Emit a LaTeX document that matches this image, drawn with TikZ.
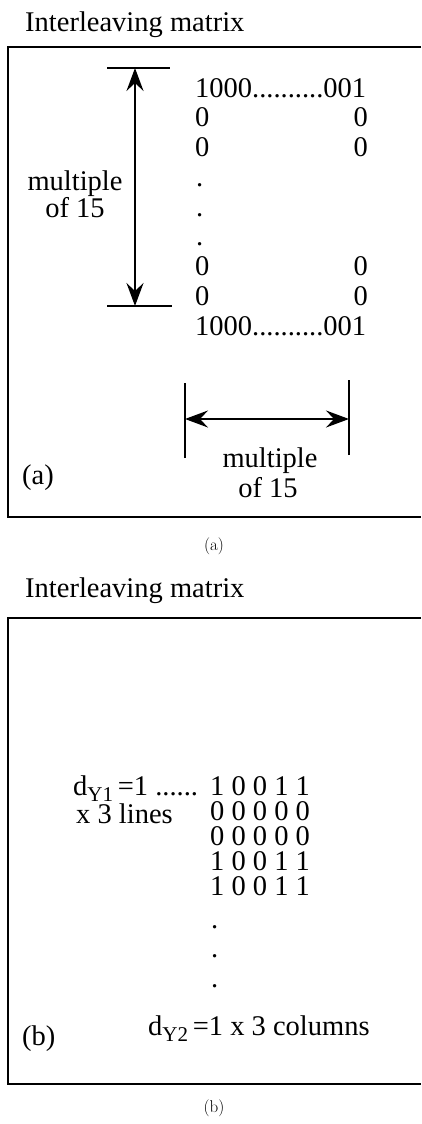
\documentclass[tikz,border=0pt]{standalone}
\usepackage{fontspec}
\newfontfamily\timesfont{Liberation Serif}
\usepackage{tikz}
\usetikzlibrary{arrows.meta}
\newcommand{\bigtxt}{\timesfont\fontsize{28.5}{30}\selectfont}
\newcommand{\subtxt}[1]{\raisebox{-6pt}{\fontsize{21}{21}\selectfont #1}}

\begin{document}
\begin{tikzpicture}[x=1pt, y=-1pt,
    txt/.style={inner sep=0pt, font=\bigtxt, anchor=base west},
    rowtxt/.style={txt, text height=20pt, text depth=1pt},
    capt/.style={inner sep=0pt, font=\fontsize{17}{18}\selectfont},
    dimarrow/.style={line width=1.8pt, {Stealth[length=23pt, width=17pt, inset=8pt]}-{Stealth[length=23pt, width=17pt, inset=8pt]}},
    tickbar/.style={line width=2pt},
    frame/.style={line width=2.5pt}]
    \useasboundingbox (0,0) rectangle (421,1124);

    % (a)
    \node[txt] (titleA) at (25,32) {Interleaving matrix};
    \draw[frame] (421,47) -- (8,47) -- (8,517) -- (421,517);
    \foreach \r in {0,8}
        \node[rowtxt] (rowA\r) at (195,{97+29.75*\r}) {1000..........001};
    \foreach \r in {1,2,6,7} {
        \node[rowtxt] (zl\r) at (195,{97+29.75*\r}) {0};
        \node[rowtxt, anchor=base east] (zr\r) at (368,{97+29.75*\r}) {0};
    }
    \foreach \r in {3,4,5}
        \node[rowtxt] (dotA\r) at (196,{97+29.75*\r}) {.};
    \coordinate (vtop) at (135,68);
    \coordinate (vbot) at (135,306);
    \draw[tickbar] ([xshift=-28pt]vtop) -- ([xshift=35pt]vtop);
    \draw[tickbar] ([xshift=-28pt]vbot) -- ([xshift=37pt]vbot);
    \draw[dimarrow] (vtop) -- (vbot);
    \node[txt, anchor=base] (mulV) at (75,190) {multiple};
    \node[txt, anchor=base] (ofV) at (75,217) {of 15};
    \coordinate (hleft) at (185,419);
    \coordinate (hright) at (349,419);
    \draw[tickbar] ([yshift=-39pt]hleft) -- ([yshift=36pt]hleft);
    \draw[tickbar] ([yshift=-36pt]hright) -- ([yshift=39pt]hright);
    \draw[dimarrow] (hleft) -- (hright);
    \node[txt, anchor=base] (mulH) at (270,467) {multiple};
    \node[txt, anchor=base] (ofH) at (268,497) {of 15};
    \node[txt] (labA) at (22,484) {(a)};
    \node[capt] (capA) at (214,546) {(a)};

    % (b)
    \node[txt] (titleB) at (25,597) {Interleaving matrix};
    \draw[frame] (421,618) -- (8,618) -- (8,1084) -- (421,1084);
    \node[txt] (dyone) at (73,795) {d\subtxt{Y1}\,=1 ......};
    \node[rowtxt] (lines) at (76,823) {x 3 lines};
    \foreach \r/\v in {0/1 0 0 1 1, 1/0 0 0 0 0, 2/0 0 0 0 0, 3/1 0 0 1 1, 4/1 0 0 1 1}
        \node[rowtxt] (rowB\r) at (210,{795+25*\r}) {\v};
    \foreach \r in {0,1,2}
        \node[rowtxt] (dotB\r) at (211,{928+29.5*\r}) {.};
    \node[txt] (dytwo) at (148,1035) {d\subtxt{Y2}\,=1 x 3 columns};
    \node[txt] (labB) at (22,1045) {(b)};
    \node[capt] (capB) at (214,1108) {(b)};
\end{tikzpicture}
\end{document}
